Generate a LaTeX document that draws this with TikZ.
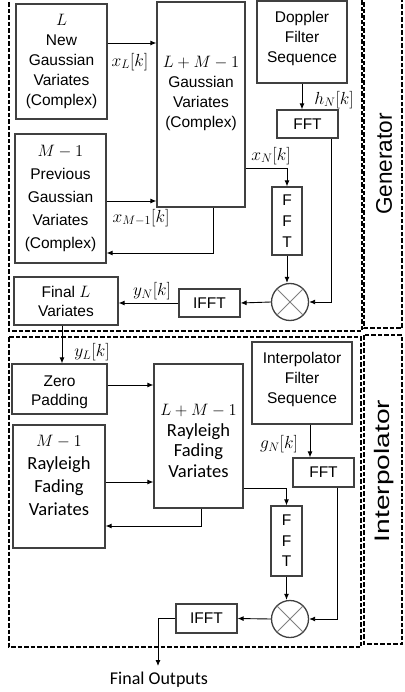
\RequirePackage{fix-cm}
\documentclass[tikz,border=0pt]{standalone}
\usepackage[no-math]{fontspec}
\setmainfont{Liberation Sans}
\newfontfamily\calfont{Carlito}
\usepackage{graphicx}
\usetikzlibrary{arrows.meta}
\definecolor{boxgray}{HTML}{404040}
\definecolor{crossgray}{HTML}{7F7F7F}
\newcommand\bmath[1]{{\fontsize{16.5}{20}\selectfont$#1$}}
\tikzset{
 box/.style={draw=boxgray, line width=1.2pt, inner sep=0pt, align=center, font=\fontsize{15.5}{20}\selectfont},
 txt/.style={inner sep=0pt, align=center, font=\fontsize{15.5}{20}\selectfont},
 caltxt/.style={inner sep=0pt, align=center, font=\calfont\fontsize{18.5}{22}\selectfont},
 lab/.style={inner sep=0pt, font=\fontsize{17.5}{20}\selectfont},
 arr/.style={-{Latex[length=6pt,width=5pt]}, line width=0.9pt, draw=black},
 frame/.style={draw=black, line width=1.6pt, dash pattern=on 4.5pt off 2pt},
 mult/.style={circle, draw=boxgray, line width=1.3pt, minimum size=37pt, inner sep=0pt},
 crossln/.style={draw=crossgray, line width=0.9pt}
}
\begin{document}
\begin{tikzpicture}[x=1pt,y=-1pt]
\useasboundingbox (0,0) rectangle (404,692);
\fill[white] (0,0) rectangle (404,692);

% dashed frames
\draw[frame] (9,-4) rectangle (362,331);
\draw[frame] (364,-4) rectangle (402,328);
\draw[frame] (9,337) rectangle (361,647);
\draw[frame] (364,335) rectangle (402,644);

\node[rotate=90, inner sep=0pt, font=\fontsize{22.6}{26}\selectfont] (genlab) at (384,164) {Generator};
\node[rotate=90, inner sep=0pt, font=\fontsize{21}{26}\selectfont] (intlab) at (384,471) {\scalebox{1.34}[1]{Interpolator}};

% ---------------- Generator ----------------
\node[box, minimum width=91pt, minimum height=115pt] (genL) at (61.5,61.5) {\bmath{L}\\New\\Gaussian\\Variates\\(Complex)};
\node[box, minimum width=91pt, minimum height=129pt, font=\fontsize{15.5}{23}\selectfont] (genM) at (60.5,198.5) {\bmath{M-1}\\Previous\\Gaussian\\Variates\\(Complex)};
\node[box, minimum width=88pt, minimum height=205pt] (genBig) at (201,104.5) {};
\node[txt] (genBigT) at (201,93) {\bmath{L+M-1}\\Gaussian\\Variates\\(Complex)};
\node[box, minimum width=90pt, minimum height=82pt] (dop) at (302,42) {};
\node[txt] (dopT) at (302,38) {Doppler\\Filter\\Sequence};
\node[box, minimum width=61pt, minimum height=28pt] (fftH) at (307.5,124) {FFT};
\node[box, minimum width=30pt, minimum height=68pt, font=\fontsize{15.5}{21}\selectfont] (fftV) at (287,221) {F\\F\\T};
\node[mult] (mul) at (290,302) {};
\draw[crossln] (mul.45) -- (mul.225) (mul.135) -- (mul.315);
\node[box, minimum width=61pt, minimum height=28pt] (ifft) at (209.5,303) {IFFT};
\node[box, minimum width=104pt, minimum height=48pt, font=\fontsize{15.5}{19}\selectfont] (finL) at (66,301) {Final \bmath{L}\\Variates};

\draw[arr] (genL.east |- 0,43) -- (genBig.west |- 0,43);
\node[lab] (xL) at (130,62) {$x_L[k]$};
\draw[arr] (genM.east |- 0,201) -- (genBig.west |- 0,201);
\node[lab] (xM) at (141,218) {$x_{M-1}[k]$};
\draw[arr] (genBig.south -| 213,0) |- (genM.east |- 0,253);
\draw[arr] (genBig.east |- 0,168) -| (fftV.north);
\node[lab] (xN) at (271,156) {$x_N[k]$};
\draw[arr] (dop.south) -- (dop.south |- fftH.north);
\node[lab] (hN) at (334,100) {$h_N[k]$};
\draw[arr] (fftH.south -| 331,0) |- (mul.east);
\draw[arr] (fftV.south) -- (fftV.south |- mul.north);
\draw[arr] (mul.west) -- (ifft.east);
\draw[arr] (ifft.west) -- (finL.east |- ifft.west);
\node[lab] (yN) at (152,291) {$y_N[k]$};

% ---------------- Interpolator ----------------
\node[box, minimum width=95pt, minimum height=50pt] (zp) at (59.5,389) {};
\node[txt, font=\fontsize{15.5}{19}\selectfont] (zpT) at (59.5,392) {Zero\\Padding};
\node[box, minimum width=100pt, minimum height=82pt] (ifs) at (302,383) {};
\node[txt] (ifsT) at (302,379) {Interpolator\\Filter\\Sequence};
\node[box, minimum width=89pt, minimum height=144pt] (intBig) at (198.5,436) {};
\node[caltxt, font=\calfont\fontsize{18.5}{20.5}\selectfont] (intBigT) at (198.5,441) {\bmath{L+M-1}\\Rayleigh\\Fading\\Variates};
\node[box, minimum width=92pt, minimum height=123pt] (intM) at (59,486.5) {};
\node[caltxt, font=\calfont\fontsize{18.5}{23}\selectfont] (intMT) at (59,475) {\bmath{M-1}\\Rayleigh\\Fading\\Variates};
\node[box, minimum width=61pt, minimum height=29pt] (fftG) at (323.5,472.5) {FFT};
\node[box, minimum width=31pt, minimum height=70pt, font=\fontsize{15.5}{20.5}\selectfont] (fftV2) at (286.5,541) {F\\F\\T};
\node[mult] (mul2) at (290,619) {};
\draw[crossln] (mul2.45) -- (mul2.225) (mul2.135) -- (mul2.315);
\node[box, minimum width=61pt, minimum height=29pt] (ifft2) at (206.5,618.5) {IFFT};
\node[anchor=north, inner sep=0pt, font=\calfont\fontsize{18}{20}\selectfont] (out) at (159,672) {Final Outputs};
\coordinate (outTip) at (158,666);

\draw[arr] (finL.south -| 62,0) -- (zp.north -| 62,0);
\node[lab] (yL) at (92,352) {$y_L[k]$};
\draw[arr] (zp.east |- 0,385) -- (intBig.west |- 0,385);
\draw[arr] (intM.east |- 0,482) -- (intBig.west |- 0,482);
\draw[arr] (intBig.south -| 201,0) |- (intM.east |- 0,526);
\draw[arr] (ifs.south -| 310,0) -- (fftG.north -| 310,0);
\node[lab] (gN) at (279,444) {$g_N[k]$};
\draw[arr] (intBig.east |- 0,488) -| (fftV2.north);
\draw[arr] (fftV2.south) -- (fftV2.south |- mul2.north);
\draw[arr] (fftG.south -| 337,0) |- (mul2.east);
\draw[arr] (mul2.west) -- (ifft2.east);
\draw[arr] (ifft2.west) -| (outTip);
\end{tikzpicture}
\end{document}
